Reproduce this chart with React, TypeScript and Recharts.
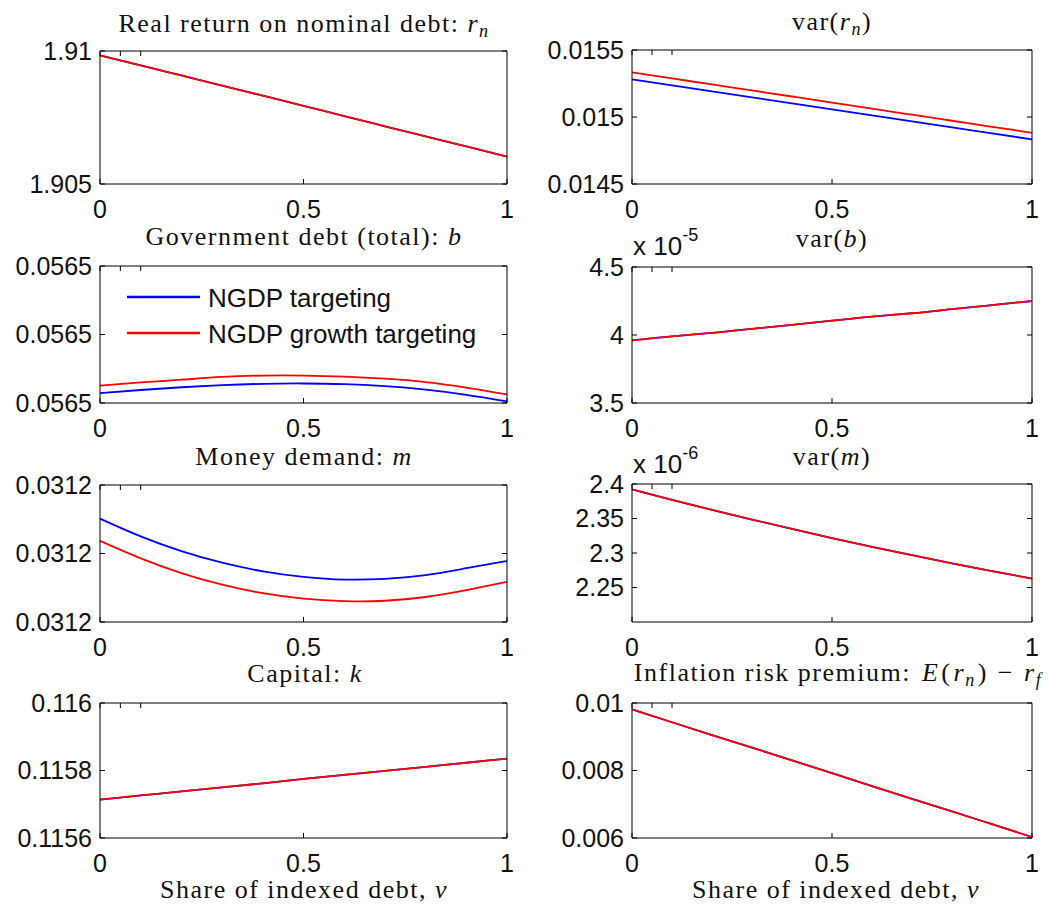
import { LineChart, Line, XAxis, YAxis } from 'recharts'

// share of indexed debt, v
const SHARE = [0, 0.1, 0.2, 0.3, 0.4, 0.5, 0.6, 0.7, 0.8, 0.9, 1]

// real return on nominal debt
const RN_NGDP = [1.90984, 1.90946, 1.90908, 1.9087, 1.90832, 1.90794, 1.90755, 1.90717, 1.90679, 1.90641, 1.90603]
const RN_GROWTH = [1.90984, 1.90946, 1.90908, 1.9087, 1.90832, 1.90794, 1.90755, 1.90717, 1.90679, 1.90641, 1.90603]

// var(r_n)
const VAR_RN_NGDP = [0.015281, 0.015236, 0.015191, 0.015147, 0.015102, 0.015057, 0.015012, 0.014967, 0.014923, 0.014878, 0.014833]
const VAR_RN_GROWTH = [0.015333, 0.015288, 0.015243, 0.015198, 0.015153, 0.015108, 0.015062, 0.015017, 0.014972, 0.014927, 0.014882]

// government debt
const B_NGDP = [0.0564829, 0.0564838, 0.0564846, 0.0564852, 0.0564856, 0.0564857, 0.0564855, 0.0564849, 0.0564839, 0.0564824, 0.0564805]
const B_GROWTH = [0.0564851, 0.056486, 0.0564868, 0.0564876, 0.056488, 0.056488, 0.0564877, 0.0564871, 0.0564861, 0.0564845, 0.0564825]

// var(b)
const VAR_B_NGDP = [3.96e-5, 3.99e-5, 4.015e-5, 4.045e-5, 4.075e-5, 4.105e-5, 4.135e-5, 4.16e-5, 4.19e-5, 4.22e-5, 4.25e-5]
const VAR_B_GROWTH = [3.96e-5, 3.99e-5, 4.015e-5, 4.045e-5, 4.075e-5, 4.105e-5, 4.135e-5, 4.16e-5, 4.19e-5, 4.22e-5, 4.25e-5]

// money demand
const M_NGDP = [0.0312302, 0.031225, 0.0312207, 0.0312173, 0.0312148, 0.0312132, 0.0312124, 0.0312126, 0.0312137, 0.0312157, 0.0312178]
const M_GROWTH = [0.0312237, 0.0312186, 0.0312143, 0.0312109, 0.0312084, 0.0312068, 0.0312061, 0.0312062, 0.0312073, 0.0312093, 0.0312117]

// var(m)
const VAR_M_NGDP = [2.392e-6, 2.377e-6, 2.3625e-6, 2.3484e-6, 2.3348e-6, 2.3217e-6, 2.309e-6, 2.2968e-6, 2.2851e-6, 2.2738e-6, 2.263e-6]
const VAR_M_GROWTH = [2.392e-6, 2.377e-6, 2.3625e-6, 2.3484e-6, 2.3348e-6, 2.3217e-6, 2.309e-6, 2.2968e-6, 2.2851e-6, 2.2738e-6, 2.263e-6]

// capital
const K_NGDP = [0.115714, 0.115726, 0.115738, 0.11575, 0.115762, 0.115775, 0.115787, 0.115799, 0.115811, 0.115823, 0.115835]
const K_GROWTH = [0.115714, 0.115726, 0.115738, 0.11575, 0.115762, 0.115775, 0.115787, 0.115799, 0.115811, 0.115823, 0.115835]

// inflation risk premium
const IRP_NGDP = [0.00981, 0.00943, 0.00905, 0.00868, 0.0083, 0.00792, 0.00754, 0.00716, 0.00679, 0.00641, 0.00603]
const IRP_GROWTH = [0.00981, 0.00943, 0.00905, 0.00868, 0.0083, 0.00792, 0.00754, 0.00716, 0.00679, 0.00641, 0.00603]

const X_TICKS = [0, 0.5, 1]

const SANS = '"Liberation Sans", Arial, Helvetica, sans-serif'
const SERIF = '"Liberation Serif", "Times New Roman", serif'
const BLUE = '#0000ff'
const RED = '#ff0000'

const rows = (a: number[], b: number[]) => SHARE.map((v, i) => ({ v, ngdp: a[i], growth: b[i] }))

const trim = (d: number) => (v: number) => String(+v.toFixed(d))

const PANELS = [
  { x: 100, y: 51, w: 407, h: 133, data: rows(RN_NGDP, RN_GROWTH), domain: [1.905, 1.91], ticks: [1.905, 1.91], fmt: trim(4) },
  { x: 632, y: 50, w: 400, h: 134, data: rows(VAR_RN_NGDP, VAR_RN_GROWTH), domain: [0.0145, 0.0155], ticks: [0.0145, 0.015, 0.0155], fmt: trim(5) },
  { x: 100, y: 266, w: 407, h: 137, data: rows(B_NGDP, B_GROWTH), domain: [0.05648, 0.05652], ticks: [0.05648, 0.0565, 0.05652], fmt: (v: number) => v.toFixed(4) },
  { x: 632, y: 267, w: 400, h: 136, data: rows(VAR_B_NGDP, VAR_B_GROWTH), domain: [3.5e-5, 4.5e-5], ticks: [3.5e-5, 4e-5, 4.5e-5], fmt: (v: number) => String(+(v * 1e5).toFixed(2)) },
  { x: 100, y: 485, w: 407, h: 137, data: rows(M_NGDP, M_GROWTH), domain: [0.0312, 0.03124], ticks: [0.0312, 0.03122, 0.03124], fmt: (v: number) => v.toFixed(4) },
  { x: 632, y: 484, w: 400, h: 138, data: rows(VAR_M_NGDP, VAR_M_GROWTH), domain: [2.2e-6, 2.4e-6], ticks: [2.25e-6, 2.3e-6, 2.35e-6, 2.4e-6], fmt: (v: number) => String(+(v * 1e6).toFixed(3)) },
  { x: 100, y: 703, w: 407, h: 135, data: rows(K_NGDP, K_GROWTH), domain: [0.1156, 0.116], ticks: [0.1156, 0.1158, 0.116], fmt: trim(4) },
  { x: 632, y: 703, w: 400, h: 135, data: rows(IRP_NGDP, IRP_GROWTH), domain: [0.006, 0.01], ticks: [0.006, 0.008, 0.01], fmt: trim(4) },
]

const AXL = 110
const AXR = 20
const AXT = 20
const AXB = 40

const tickStyle = { fill: '#111', fontSize: 25, fontFamily: SANS }

function Panel({ x, y, w, h, data, domain, ticks, fmt }: any) {
  return (
    <div style={{ position: 'absolute', left: x - AXL, top: y - AXT }}>
      <LineChart width={AXL + w + AXR} height={AXT + h + AXB} data={data} margin={{ top: 0, right: 0, bottom: 0, left: 0 }}>
        <XAxis dataKey="v" type="number" domain={[0, 1]} ticks={X_TICKS} interval={0} height={AXB}
          stroke="#000" tickSize={-5} tickMargin={21} tick={tickStyle} />
        <XAxis xAxisId="top" orientation="top" type="number" domain={[0, 1]} ticks={X_TICKS} interval={0} height={AXT}
          stroke="#000" tickSize={-5} tickFormatter={() => ''} />
        <YAxis type="number" domain={domain} ticks={ticks} interval={0} width={AXL} allowDataOverflow
          stroke="#000" tickSize={-5} tickMargin={13} tick={tickStyle} tickFormatter={fmt} />
        <YAxis yAxisId="right" orientation="right" type="number" domain={domain} ticks={ticks} interval={0} width={AXR} allowDataOverflow
          stroke="#000" tickSize={-5} tickFormatter={() => ''} />
        <Line dataKey="ngdp" type="natural" stroke={BLUE} strokeWidth={1.8} dot={false} isAnimationActive={false} />
        <Line dataKey="growth" type="natural" stroke={RED} strokeWidth={1.8} dot={false} isAnimationActive={false} />
      </LineChart>
    </div>
  )
}

const it = { fontStyle: 'italic' as const }

function Labels() {
  const t = { fontFamily: SERIF, fontSize: 26, fill: '#111', textAnchor: 'middle' as const, letterSpacing: 1.5 }
  const sub = { fontSize: 18, fontStyle: 'italic' as const }
  return (
    <svg width={1049} height={910} style={{ position: 'absolute', left: 0, top: 0, pointerEvents: 'none' }}>
      <text x={304} y={32} {...t}>Real return on nominal debt: <tspan {...it}>r</tspan><tspan {...sub} dy={5}>n</tspan></text>
      <text x={832} y={30} {...t}>var(<tspan {...it}>r</tspan><tspan {...sub} dy={5}>n</tspan><tspan dy={-5}>)</tspan></text>
      <text x={304} y={245} {...t}>Government debt (total): <tspan {...it}>b</tspan></text>
      <text x={832} y={247} {...t}>var(<tspan {...it}>b</tspan>)</text>
      <text x={304} y={465} {...t}>Money demand: <tspan {...it}>m</tspan></text>
      <text x={832} y={465} {...t}>var(<tspan {...it}>m</tspan>)</text>
      <text x={305} y={682} {...t}>Capital: <tspan {...it}>k</tspan></text>
      <text x={838} y={681} {...t}>Inflation risk premium: <tspan {...it} dx={3}>E</tspan><tspan dx={2}>(</tspan><tspan {...it} dx={2}>r</tspan><tspan {...sub} dy={5}>n</tspan><tspan dy={-5} dx={2}>)</tspan><tspan dx={10}>−</tspan><tspan {...it} dx={10}>r</tspan><tspan {...sub} dy={5}>f</tspan></text>
      <text x={304} y={898} {...t}>Share of indexed debt, <tspan {...it}>v</tspan></text>
      <text x={836} y={898} {...t}>Share of indexed debt, <tspan {...it}>v</tspan></text>

      <text x={633} y={255} fontFamily={SANS} fontSize={26} fill="#111">x 10<tspan fontSize={18} dy={-14}>-5</tspan></text>
      <text x={633} y={473} fontFamily={SANS} fontSize={26} fill="#111">x 10<tspan fontSize={18} dy={-14}>-6</tspan></text>

      <line x1={127} x2={200} y1={297} y2={297} stroke={BLUE} strokeWidth={2.5} />
      <line x1={127} x2={200} y1={333} y2={333} stroke={RED} strokeWidth={2.5} />
      <text x={208} y={307} fontFamily={SANS} fontSize={26} fill="#111">NGDP targeting</text>
      <text x={208} y={343} fontFamily={SANS} fontSize={26} fill="#111">NGDP growth targeting</text>
    </svg>
  )
}

export default function App() {
  return (
    <div style={{ position: 'absolute', left: 0, top: 0, width: 1049, height: 910, background: '#fff', overflow: 'hidden' }}>
      {PANELS.map((p, i) => <Panel key={i} {...p} />)}
      <Labels />
    </div>
  )
}
